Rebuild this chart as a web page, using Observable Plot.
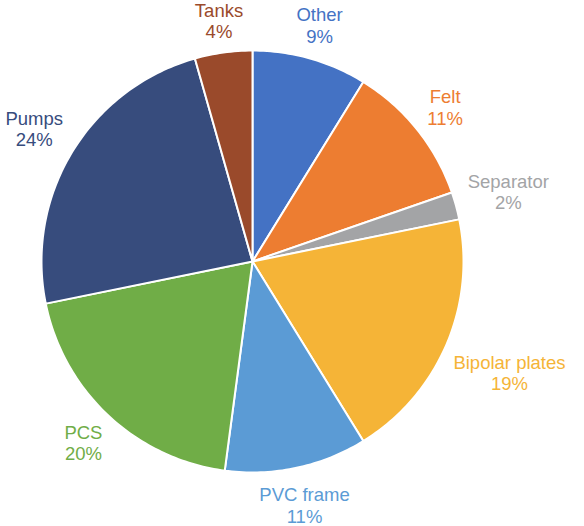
<!DOCTYPE html>
<html><head><meta charset="utf-8">
<script src="https://cdn.jsdelivr.net/npm/d3@7"></script>
<script src="https://cdn.jsdelivr.net/npm/@observablehq/plot@0.6"></script>
<style>body{margin:0;background:#fff}</style>
</head><body><div id="chart"></div>
<script>
const categories = ["Other", "Felt", "Separator", "Bipolar plates", "PVC frame", "PCS", "Pumps", "Tanks"];
const shares = [8.8, 10.9, 2.1, 19.4, 10.9, 19.7, 23.8, 4.4];
const colors = ["#4472C4", "#ED7D31", "#A3A4A6", "#F5B437", "#5B9BD5", "#70AD47", "#374C7D", "#9A4A2B"];

const W = 584, H = 526, CX = 252, CY = 261, R = 211;
const FONT = "Liberation Sans, Arial, sans-serif";
const FS = 18.5;

const arcs = d3.pie().sort(null).value(d => d)(shares);
const slices = [];
arcs.forEach((p, i) => {
  const n = Math.max(2, Math.ceil((p.endAngle - p.startAngle) * 180 / Math.PI));
  slices.push({k: i, x: 0, y: 0});
  for (let j = 0; j <= n; j++) {
    const a = p.startAngle + (p.endAngle - p.startAngle) * j / n;
    slices.push({k: i, x: R * Math.sin(a), y: R * Math.cos(a)});
  }
});

const ctx = document.createElement("canvas").getContext("2d");
ctx.font = `${FS}px ${FONT}`;
const labels = arcs.map((p, i) => {
  const text = `${categories[i]}\n${Math.round(shares[i])}%`;
  const w = Math.max(...text.split("\n").map(s => ctx.measureText(s).width));
  const a = (p.startAngle + p.endAngle) / 2;
  const ux = Math.sin(a), uy = Math.cos(a);
  const D = R + 10 + Math.abs(ux) * w / 2 + Math.abs(uy) * 19;
  return {x: D * ux, y: D * uy, text, color: colors[i]};
});

const chart = Plot.plot({
  width: W, height: H,
  margin: 0,
  x: {domain: [-CX, W - CX], axis: null},
  y: {domain: [-(H - CY), CY], axis: null},
  style: {background: "#fff"},
  marks: [
    Plot.line(slices, {x: "x", y: "y", z: "k", fill: d => colors[d.k], stroke: "white", strokeWidth: 2, curve: "linear-closed"}),
    Plot.text(labels, {x: "x", y: "y", text: "text", fill: "color", fontSize: FS, lineHeight: 1.17, fontFamily: FONT})
  ]
});
document.getElementById("chart").appendChild(chart);
</script>
</body></html>
